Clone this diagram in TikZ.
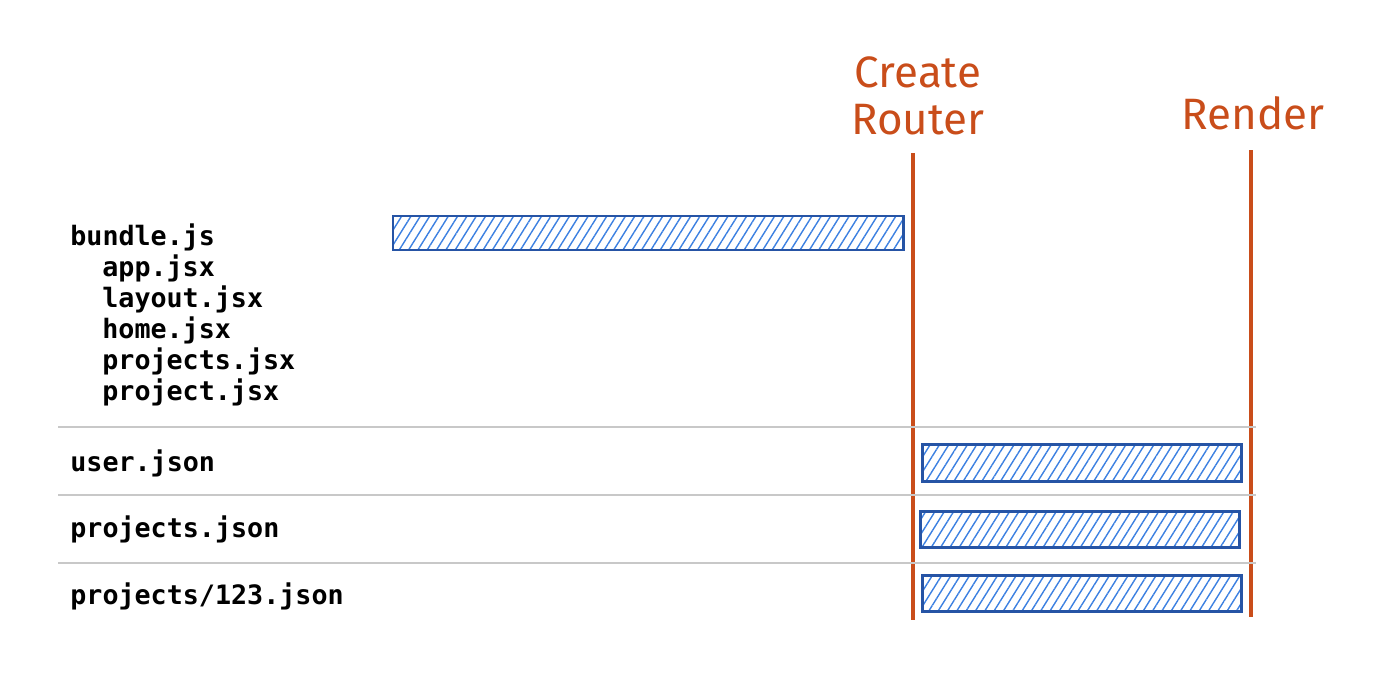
\documentclass[tikz,border=0pt]{standalone}
\usepackage{fontspec}
\setmonofont{DejaVu Sans Mono}
\newfontfamily\handfont{Fira Sans}
\usepackage{xcolor}
\usetikzlibrary{positioning,patterns.meta}

\definecolor{timeorange}{RGB}{201,77,26}
\definecolor{barblue}{RGB}{38,84,165}
\definecolor{hatchblue}{RGB}{60,128,225}
\definecolor{rulegray}{RGB}{200,200,200}

\tikzset{
  file/.style={anchor=west,inner sep=0pt,font=\ttfamily\bfseries\fontsize{15.2}{18}\selectfont},
  mark line/.style={draw=timeorange,line width=1.8pt},
  phase/.style={font=\handfont\fontsize{25}{27}\selectfont,text=timeorange,align=center},
  bar/.style={draw=barblue,line width=1.7pt,
    pattern={Lines[angle=58,distance=4.5pt,line width=0.8pt]},pattern color=hatchblue},
  row rule/.style={draw=rulegray,line width=1.2pt}
}

\begin{document}
\begin{tikzpicture}[x=0.02cm,y=-0.02cm]
        \useasboundingbox (0,0) rectangle (1384,680);

        % Phase markers
        \node[phase] (create) at (918,96) {Create\\Router};
        \node[phase] (render) at (1253,113) {Render};
        \draw[mark line] (913,153) -- (913,620);
        \draw[mark line] (1251,150) -- (1251,617);

        % Row rules
        \foreach \y in {427,495,563} {
            \draw[row rule] (58,\y) -- (1256,\y);
        }

        % Files
        \node[file] (bundle) at (70,237) {bundle.js};
        \foreach \name [count=\i] in {app.jsx,layout.jsx,home.jsx,projects.jsx,project.jsx} {
            \node[file] (sub\i) at (102,{237+31*\i}) {\name};
        }
        \node[file] (user) at (70,463) {user.json};
        \node[file] (projects) at (70,529) {projects.json};
        \node[file] (project) at (70,596) {projects/123.json};

        % Load bars
        \draw[bar] (393,216) rectangle (903,250);
        \draw[bar] (922,444) rectangle (1241,481);
        \draw[bar] (920,511) rectangle (1239,547);
        \draw[bar] (922,575) rectangle (1241,611);
    \end{tikzpicture}
\end{document}
